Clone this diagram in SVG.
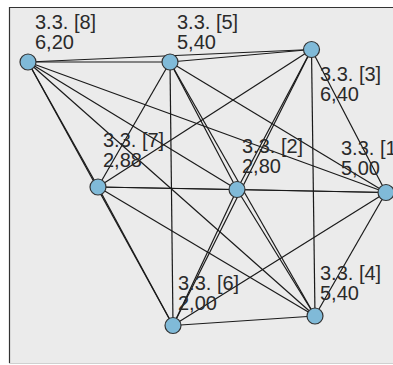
<svg xmlns="http://www.w3.org/2000/svg" width="393" height="365" viewBox="0 0 393 365">
<style>
.edge{stroke:#1a1a1a;stroke-width:1.2;fill:none}
.node circle{fill:#80bad8;stroke:#333;stroke-width:1.2}
.lbl{font-family:"Liberation Sans",Arial,sans-serif;font-size:20px;fill:#2a2a2a}
</style>
<rect x="0" y="0" width="393" height="365" fill="#ffffff"/>
<rect x="9" y="7" width="390" height="356" fill="#ebebeb"/>
<line x1="9.5" y1="7" x2="9.5" y2="363" stroke="#333" stroke-width="1.2"/>
<line x1="9" y1="7.5" x2="393" y2="7.5" stroke="#333" stroke-width="1.2"/>
<line x1="9" y1="363.5" x2="393" y2="363.5" stroke="#d0d0d0" stroke-width="1"/>
<g id="connectors">
<line class="edge" x1="28" y1="62" x2="170" y2="62"/>
<line class="edge" x1="28" y1="62" x2="311.5" y2="49.5"/>
<line class="edge" x1="28" y1="62" x2="98" y2="187"/>
<line class="edge" x1="28" y1="62" x2="237" y2="189.5"/>
<line class="edge" x1="28" y1="62" x2="386" y2="192.5"/>
<line class="edge" x1="28" y1="62" x2="173" y2="325.5"/>
<line class="edge" x1="28" y1="62" x2="315" y2="316"/>
<line class="edge" x1="170" y1="62" x2="311.5" y2="49.5"/>
<line class="edge" x1="170" y1="62" x2="98" y2="187"/>
<line class="edge" x1="170" y1="62" x2="237" y2="189.5"/>
<line class="edge" x1="170" y1="62" x2="386" y2="192.5"/>
<line class="edge" x1="170" y1="62" x2="173" y2="325.5"/>
<line class="edge" x1="170" y1="62" x2="315" y2="316"/>
<line class="edge" x1="311.5" y1="49.5" x2="98" y2="187"/>
<line class="edge" x1="311.5" y1="49.5" x2="237" y2="189.5"/>
<line class="edge" x1="311.5" y1="49.5" x2="386" y2="192.5"/>
<line class="edge" x1="311.5" y1="49.5" x2="173" y2="325.5"/>
<line class="edge" x1="311.5" y1="49.5" x2="315" y2="316"/>
<line class="edge" x1="98" y1="187" x2="237" y2="189.5"/>
<line class="edge" x1="98" y1="187" x2="386" y2="192.5"/>
<line class="edge" x1="98" y1="187" x2="173" y2="325.5"/>
<line class="edge" x1="98" y1="187" x2="315" y2="316"/>
<line class="edge" x1="237" y1="189.5" x2="386" y2="192.5"/>
<line class="edge" x1="237" y1="189.5" x2="173" y2="325.5"/>
<line class="edge" x1="237" y1="189.5" x2="315" y2="316"/>
<line class="edge" x1="386" y1="192.5" x2="173" y2="325.5"/>
<line class="edge" x1="386" y1="192.5" x2="315" y2="316"/>
<line class="edge" x1="173" y1="325.5" x2="315" y2="316"/>
</g>
<g id="node8" class="node"><circle cx="28" cy="62" r="8"/><text class="lbl" x="35" y="29">3.3. [8]<tspan x="35" dy="20">6,20</tspan></text></g>
<g id="node5" class="node"><circle cx="170" cy="62" r="8"/><text class="lbl" x="177" y="29">3.3. [5]<tspan x="177" dy="20">5,40</tspan></text></g>
<g id="node3" class="node"><circle cx="311.5" cy="49.5" r="8"/><text class="lbl" x="320" y="81">3.3. [3]<tspan x="320" dy="20">6,40</tspan></text></g>
<g id="node7" class="node"><circle cx="98" cy="187" r="8"/><text class="lbl" x="103" y="147">3.3. [7]<tspan x="103" dy="20">2,88</tspan></text></g>
<g id="node2" class="node"><circle cx="237" cy="189.5" r="8"/><text class="lbl" x="242" y="153">3.3. [2]<tspan x="242" dy="20">2,80</tspan></text></g>
<g id="node1" class="node"><circle cx="386" cy="192.5" r="8"/><text class="lbl" x="341" y="155">3.3. [1]<tspan x="341" dy="20">5,00</tspan></text></g>
<g id="node6" class="node"><circle cx="173" cy="325.5" r="8"/><text class="lbl" x="178" y="290">3.3. [6]<tspan x="178" dy="20">2,00</tspan></text></g>
<g id="node4" class="node"><circle cx="315" cy="316" r="8"/><text class="lbl" x="320" y="280">3.3. [4]<tspan x="320" dy="20">5,40</tspan></text></g>
</svg>
